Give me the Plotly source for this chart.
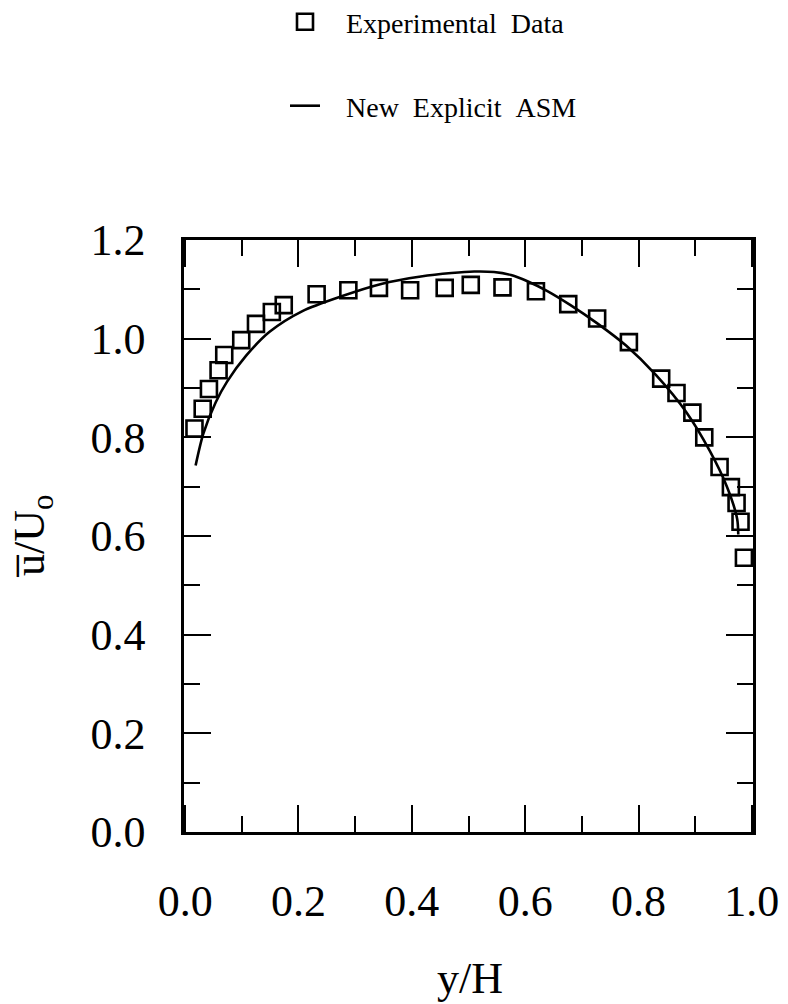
import plotly.graph_objects as go

# Experimental data (y/H, u/Uo)
exp_x = [0.0165, 0.031, 0.042, 0.059, 0.069, 0.099, 0.125, 0.153, 0.174, 0.232,
         0.288, 0.342, 0.397, 0.458, 0.504, 0.560, 0.619, 0.676, 0.727, 0.783,
         0.840, 0.867, 0.895, 0.916, 0.943, 0.963, 0.973, 0.980, 0.986]
exp_y = [0.818, 0.858, 0.898, 0.936, 0.967, 0.997, 1.030, 1.054, 1.068, 1.090,
         1.098, 1.103, 1.098, 1.103, 1.109, 1.104, 1.096, 1.070, 1.041, 0.993,
         0.919, 0.890, 0.850, 0.800, 0.740, 0.699, 0.667, 0.629, 0.556]

# New Explicit ASM prediction
asm_x = [0.0185, 0.032, 0.054, 0.074, 0.108, 0.149, 0.207, 0.276, 0.346, 0.416,
         0.470, 0.510, 0.545, 0.575, 0.605, 0.640, 0.680, 0.726, 0.778, 0.831,
         0.885, 0.926, 0.956, 0.974, 0.976]
asm_y = [0.743, 0.807, 0.871, 0.913, 0.966, 1.014, 1.056, 1.086, 1.111, 1.126,
         1.133, 1.136, 1.135, 1.129, 1.116, 1.096, 1.068, 1.032, 0.986, 0.926,
         0.850, 0.772, 0.700, 0.635, 0.603]

x_ticks = [0.0, 0.2, 0.4, 0.6, 0.8, 1.0]
x_ticklabels = ["0.0", "0.2", "0.4", "0.6", "0.8", "1.0"]
y_ticks = [0.0, 0.2, 0.4, 0.6, 0.8, 1.0, 1.2]
y_ticklabels = ["0.0", "0.2", "0.4", "0.6", "0.8", "1.0", "1.2"]

SERIF = "Liberation Serif, Times New Roman, DejaVu Serif, serif"
NB = "\u00a0"

# plot-area geometry in pixels (for placing legends/titles in paper coords)
L, R, T, B = 184, 35, 240, 172
W, H = 788, 1004
PW, PH = W - L - R, H - T - B


def px_to_paper(px, py):
    return (px - L) / PW, (H - B - py) / PH


fig = go.Figure()
fig.add_trace(go.Scatter(
    x=exp_x, y=exp_y, mode="markers",
    name=NB * 3 + "Experimental" + NB * 2 + "Data",
    marker=dict(symbol="square-open", size=16, color="black",
                line=dict(width=2.6, color="black")),
    legend="legend",
))
fig.add_trace(go.Scatter(
    x=asm_x, y=asm_y, mode="lines",
    name=NB * 3 + "New" + NB * 2 + "Explicit" + NB * 2 + "ASM",
    line=dict(color="black", width=2.6, shape="spline", smoothing=0.8),
    legend="legend2",
))

axis_common = dict(
    showline=True, linecolor="black", linewidth=2.5, mirror="ticks",
    ticks="inside", ticklen=27, tickwidth=2, tickcolor="black",
    showgrid=False, zeroline=False, automargin=False, tickangle=0,
    tickfont=dict(family=SERIF, size=44, color="black"),
)

fig.update_xaxes(
    range=[-0.002, 1.002], tickvals=x_ticks, ticktext=x_ticklabels,
    minor=dict(dtick=0.1, tick0=0, ticks="inside", ticklen=16, tickwidth=2,
               tickcolor="black", showgrid=False),
    ticklabelstandoff=28,
    **axis_common,
)
fig.update_yaxes(
    range=[0, 1.2], tickvals=y_ticks, ticktext=y_ticklabels,
    minor=dict(dtick=0.1, tick0=0, ticks="inside", ticklen=16, tickwidth=2,
               tickcolor="black", showgrid=False),
    ticklabelstandoff=27,
    **axis_common,
)

lx1, ly1 = px_to_paper(285, 22)
lx2, ly2 = px_to_paper(285, 106)
yt_x, yt_y = px_to_paper(32, 536)
xt_x, xt_y = px_to_paper(470, 978)

fig.update_layout(
    width=W, height=H,
    margin=dict(l=L, r=R, t=T, b=B, autoexpand=False),
    paper_bgcolor="white", plot_bgcolor="white",
    font=dict(family=SERIF, color="black"),
    showlegend=True,
    legend=dict(x=lx1, y=ly1, xanchor="left", yanchor="middle",
                bgcolor="rgba(0,0,0,0)",
                font=dict(family=SERIF, size=28, color="black"), itemwidth=30),
    legend2=dict(x=lx2, y=ly2, xanchor="left", yanchor="middle",
                 bgcolor="rgba(0,0,0,0)",
                 font=dict(family=SERIF, size=28, color="black"), itemwidth=30),
    annotations=[
        dict(text="u\u0305/U<sub>o</sub>", xref="paper", yref="paper",
             x=yt_x, y=yt_y, textangle=-90, showarrow=False,
             xanchor="center", yanchor="middle",
             font=dict(family=SERIF, size=44, color="black")),
        dict(text="y/H", xref="paper", yref="paper",
             x=xt_x, y=xt_y, showarrow=False,
             xanchor="center", yanchor="middle",
             font=dict(family=SERIF, size=44, color="black")),
    ],
)

fig.write_html("out.html")
